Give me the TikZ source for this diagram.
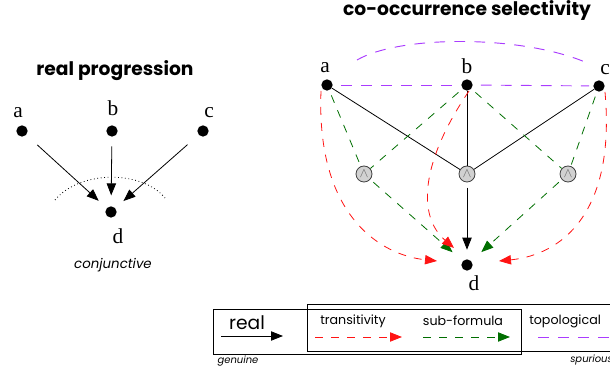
\documentclass[tikz,border=0pt]{standalone}
\usepackage{fontspec}
\setmainfont{Liberation Serif}
\newfontfamily\gfont{Poppins}
\usetikzlibrary{arrows.meta}
\definecolor{tred}{RGB}{255,20,20}
\definecolor{tgreen}{RGB}{0,110,0}
\definecolor{tpurple}{RGB}{170,60,255}
\tikzset{
  dot/.style={circle,fill=black,inner sep=0pt,minimum size=8.5pt},
  lbl/.style={font=\fontsize{16}{16}\selectfont,inner sep=0pt},
  title/.style={font=\gfont\bfseries\fontsize{14}{15}\selectfont,inner sep=0pt},
  andnode/.style={circle,draw=black!75,fill=black!18,line width=0.6pt,minimum size=12pt,inner sep=0pt,font=\fontsize{10}{10}\selectfont,text=black!60},
  tip/.style={-{Triangle[length=9pt,width=7pt]}},
  real/.style={line width=0.6pt},
  trans/.style={tred,line width=0.6pt,dash pattern=on 6pt off 6pt},
  subf/.style={tgreen,line width=0.6pt,dash pattern=on 6pt off 6pt},
  topo/.style={tpurple,line width=0.7pt,dash pattern=on 8pt off 7pt},
  small/.style={font=\gfont\fontsize{9.5}{10}\selectfont,inner sep=0pt},
  tiny/.style={font=\gfont\itshape\fontsize{7.5}{8}\selectfont,inner sep=0pt},
}
\begin{document}
\begin{tikzpicture}[x=0.75pt,y=-0.75pt]
\useasboundingbox (0,0) rectangle (610,373);
% ---------- left: real progression ----------
\node[title] (t1) at (115,71) {real progression};
\node[dot] (la) at (22,131) {};
\node[dot] (lb) at (112,131) {};
\node[dot] (lc) at (203,131) {};
\node[dot] (ld) at (111,212) {};
\node[lbl] (la-l) at (18,113) {a};
\node[lbl] (lb-l) at (113,108) {b};
\node[lbl] (lc-l) at (209,113) {c};
\node[lbl] (ld-l) at (118,236) {d};
\node[font=\gfont\itshape\fontsize{10}{10}\selectfont,inner sep=0pt] (conj) at (113,265) {conjunctive};
\draw[dotted,line width=0.6pt] (55,200) .. controls (80,170) and (142,170) .. (165,198);
\draw[real,tip,shorten <=11pt,shorten >=8pt] (la) -- (ld);
\draw[real,tip,shorten <=7pt,shorten >=8pt] (lb) -- (ld);
\draw[real,tip,shorten <=11pt,shorten >=8pt] (lc) -- (ld);
% ---------- right: co-occurrence selectivity ----------
\node[title] (t2) at (467,11) {co-occurrence selectivity};
\node[dot] (a) at (327,85) {};
\node[dot] (b) at (467,85) {};
\node[dot] (c) at (599,86) {};
\node[dot] (d) at (467,265) {};
\node[lbl] (a-l) at (325,68) {a};
\node[lbl] (b-l) at (467,66) {b};
\node[lbl] (c-l) at (605,70) {c};
\node[lbl] (d-l) at (474,283) {d};
\node[andnode] (n1) at (364,174) {$\wedge$};
\node[andnode] (n2) at (467,174) {$\wedge$};
\node[andnode] (n3) at (568,174) {$\wedge$};
% topological
\draw[topo,shorten <=6pt,shorten >=3pt] (a) -- (b);
\draw[topo,shorten <=6pt,shorten >=3pt] (b) -- (c);
\draw[topo] (357,60) .. controls (400,35) and (520,35) .. (585,62);
% real
\draw[real] (a) -- (n2);
\draw[real] (b) -- (n2);
\draw[real] (c) -- (n2);
\draw[real,tip,shorten <=4pt,shorten >=7pt] (n2) -- (d);
% sub-formula
\draw[subf,shorten <=4pt] (a) -- (n1);
\draw[subf,shorten <=4pt] (b) -- (n1);
\draw[subf,shorten <=4pt] (b) -- (n3);
\draw[subf,shorten <=4pt] (c) -- (n3);
\draw[subf,tip,shorten <=3pt,shorten >=10pt] (n1) -- (d);
\draw[subf,tip,shorten <=3pt,shorten >=10pt] (n3) -- (d);
% transitivity
\coordinate (ta) at (437,261);
\coordinate (tb) at (454,248);
\coordinate (tc) at (499,261);
\draw[trans,tip] (a) ++(-6,6) .. controls (316,215) and (380,255) .. (ta);
\draw[trans,tip] (b) ++(2,6) .. controls (422,160) and (416,215) .. (tb);
\draw[trans,tip] (c) ++(6,6) .. controls (616,215) and (560,255) .. (tc);
% ---------- legend ----------
\draw[line width=0.6pt] (213,309) rectangle (521,354);
\draw[line width=0.6pt] (307,304) rectangle (625,351);
\node[font=\gfont\fontsize{14}{14}\selectfont,inner sep=0pt] (lr) at (247,323) {real};
\coordinate (r1) at (221,336); \coordinate (r2) at (283,336);
\draw[real,tip] (r1) -- (r2);
\node[tiny] (gen) at (238,361) {genuine};
\node[small] (ltr) at (353,321) {transitivity};
\coordinate (t1a) at (315,337); \coordinate (t1b) at (402,337);
\draw[trans,tip] (t1a) -- (t1b);
\node[small] (lsf) at (463,321) {sub-formula};
\coordinate (s1a) at (423,337); \coordinate (s1b) at (510,337);
\draw[subf,tip] (s1a) -- (s1b);
\node[small,anchor=west] (ltp) at (529,321) {topological};
\coordinate (p1a) at (538,337); \coordinate (p1b) at (630,337);
\draw[topo] (p1a) -- (p1b);
\node[tiny,anchor=west] (spu) at (570,360) {spurious};
\end{tikzpicture}
\end{document}
